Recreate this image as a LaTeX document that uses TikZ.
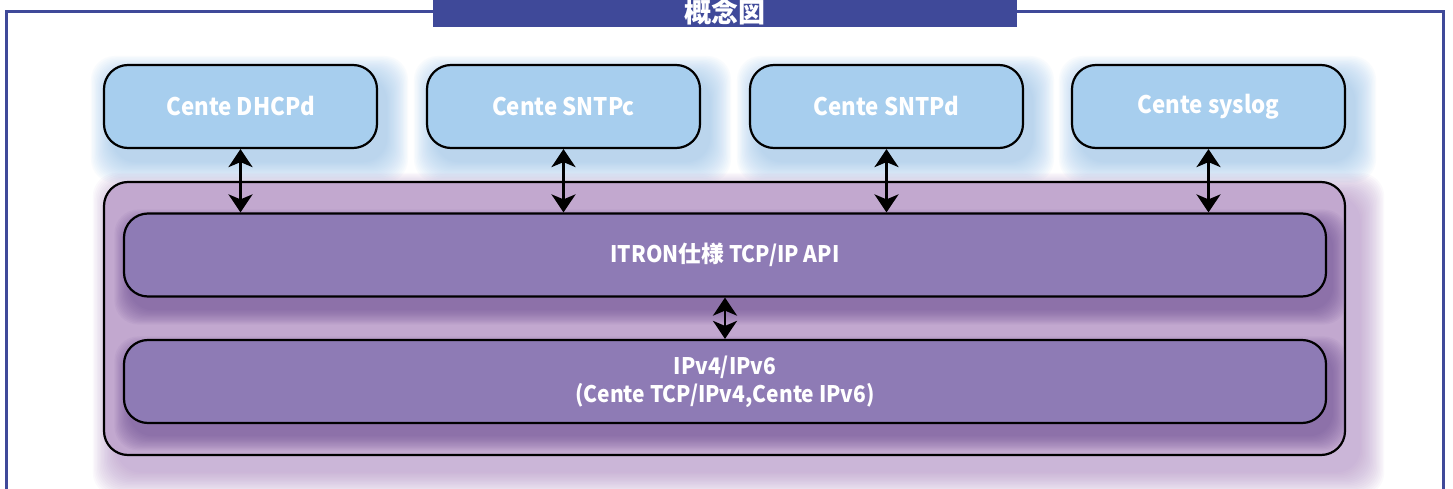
\documentclass[tikz,border=0pt]{standalone}
\usepackage{fontspec}
\setmainfont{Noto Sans CJK JP}[FakeStretch=0.92]
\newfontfamily\cjk{Noto Sans CJK JP}
\usetikzlibrary{arrows.meta}
\definecolor{frameblue}{RGB}{63,73,153}
\definecolor{boxblue}{RGB}{167,206,238}
\definecolor{glowblue}{RGB}{150,195,235}
\definecolor{outerpurple}{RGB}{194,168,207}
\definecolor{glowpurple}{RGB}{180,145,200}
\definecolor{innerpurple}{RGB}{142,123,181}
\definecolor{darkglow}{RGB}{105,75,145}
\tikzset{
  toptext/.style={text=white, font=\bfseries\fontsize{24.2}{28}\selectfont, align=center},
  lowtext/.style={text=white, font=\bfseries\fontsize{22.8}{28}\selectfont, align=center},
  bluebox/.style={toptext, draw=black, line width=2.2pt, fill=boxblue, rounded corners=24pt,
    minimum width=273pt, minimum height=83pt},
  stackbox/.style={draw=black, line width=2.2pt, fill=outerpurple, rounded corners=24pt,
    minimum width=1241pt, minimum height=273pt},
  layerbox/.style={lowtext, draw=black, line width=2.2pt, fill=innerpurple, rounded corners=24pt,
    minimum width=1202pt, minimum height=83pt},
  biarrow/.style={line width=2.7pt, {Stealth[length=18pt,width=24pt,inset=5pt]}-{Stealth[length=18pt,width=24pt,inset=5pt]}},
  titletext/.style={text=white, font=\cjk\bfseries\fontsize{27}{30}\selectfont, inner sep=0pt}
}
% glow: color, cx, cy, w, h, step, count, opacity
\newcommand{\glowbox}[8]{%
  \foreach \k in {1,...,#7}{%
    \fill[#1, fill opacity=#8, rounded corners=24pt]
      ({#2-#4/2-\k*#6},{#3-#5/2-\k*#6}) rectangle ({#2+#4/2+\k*#6},{#3+#5/2+\k*#6});
  }%
}
\begin{document}
\begin{tikzpicture}[x=1pt,y=-1pt]
\useasboundingbox (0,0) rectangle (1453,489);
\clip (0,0) rectangle (1453,489);
\fill[white] (0,0) rectangle (1453,489);
% frame
\draw[frameblue, line width=3pt] (6.5,520) -- (6.5,11.5) -- (1443.5,11.5) -- (1443.5,520);
\fill[frameblue] (433,-5) rectangle (1017,26.7);
\node[titletext] (title) at (725,12) {概念図};
% glows of upper boxes
\glowbox{glowblue}{249.5}{119.5}{273}{83}{1.3}{17}{0.05}
\glowbox{glowblue}{572.5}{119.5}{273}{83}{1.3}{17}{0.05}
\glowbox{glowblue}{895.5}{119.5}{273}{83}{1.3}{17}{0.05}
\glowbox{glowblue}{1217.5}{119.5}{273}{83}{1.3}{17}{0.05}
% glow of stack
\glowbox{glowpurple}{738.5}{334.5}{1241}{273}{1.4}{18}{0.05}
% upper boxes
\node[bluebox] (d1) at (240.5,106.5) {Cente DHCPd};
\node[bluebox] (d2) at (563.5,106.5) {Cente SNTPc};
\node[bluebox] (d3) at (886.5,106.5) {Cente SNTPd};
\node[bluebox] (d4) at (1208.5,106.5) {Cente syslog};
% stack
\node[stackbox] (stack) at (724.5,318.5) {};
\begin{scope}
  \clip[rounded corners=24pt] (104,182) rectangle (1345,455);
  \glowbox{darkglow}{731}{267}{1202}{84}{1.2}{13}{0.06}
  \glowbox{darkglow}{731}{393.5}{1202}{83}{1.2}{13}{0.06}
\end{scope}
\node[layerbox] (api) at (725,255) {ITRON{\cjk 仕様} TCP/IP API};
\node[layerbox] (ip) at (725,381.5) {IPv4/IPv6\\(Cente TCP/IPv4,Cente IPv6)};
% arrows
\draw[biarrow] (d1.south) -- (d1.south |- api.north);
\draw[biarrow] (d2.south) -- (d2.south |- api.north);
\draw[biarrow] (d3.south) -- (d3.south |- api.north);
\draw[biarrow] (d4.south) -- (d4.south |- api.north);
\draw[biarrow] (api.south) -- (ip.north);
\end{tikzpicture}
\end{document}
